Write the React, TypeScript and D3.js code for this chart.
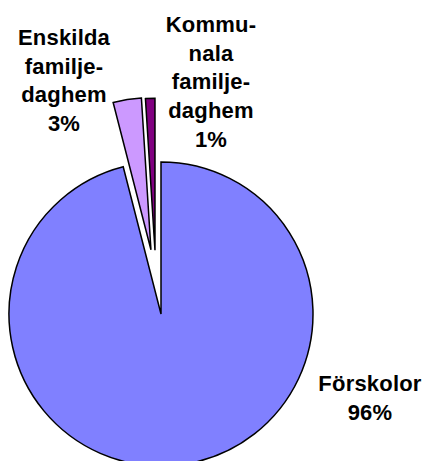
import React from "react";
import * as d3 from "d3";

const categories = ["Förskolor", "Enskilda familjedaghem", "Kommunala familjedaghem"];
const values = [96, 3, 1];
const labelLines = [
  ["Förskolor", "96%"],
  ["Enskilda", "familje-", "daghem", "3%"],
  ["Kommu-", "nala", "familje-", "daghem", "1%"],
];

const colors = ["#8080FF", "#CC99FF", "#800080"];
const explodeDist = [0, 65, 64];
const explodeAngleDeg = [0, -8.9, -5.4];
const labelPos = [
  { x: 370, y: 391 },
  { x: 64, y: 45 },
  { x: 211, y: 32 },
];
const lineHeight = 28.7;

export default function App() {
  const W = 424, H = 461;
  const cx = 161, cy = 314, r = 152;
  const data = categories.map((c, i) => ({ c, v: values[i], i }));
  const pie = d3.pie<any>().value((d) => d.v).sort(null).startAngle(0).endAngle(2 * Math.PI);
  const arcs = pie(data);
  const arc = d3.arc<any>().innerRadius(0).outerRadius(r);
  return (
    <svg width={W} height={H} style={{ position: "fixed", left: 0, top: 0, background: "#fff" }}>
      <rect width={W} height={H} fill="#fff" />
      {arcs.map((a, i) => {
        const ang = (explodeAngleDeg[i] * Math.PI) / 180;
        const dx = explodeDist[i] * Math.sin(ang);
        const dy = -explodeDist[i] * Math.cos(ang);
        return (
          <path
            key={i}
            d={arc(a) as string}
            transform={`translate(${cx + dx},${cy + dy})`}
            fill={colors[i]}
            stroke="#000"
            strokeWidth={1.5}
            strokeLinejoin="miter"
          />
        );
      })}
      {labelLines.map((lines, i) => (
        <text
          key={i}
          textAnchor="middle"
          fontFamily="'Liberation Sans', Arial, sans-serif"
          fontWeight="bold"
          fontSize={22}
          letterSpacing={0.2}
          fill="#000"
        >
          {lines.map((t, j) => (
            <tspan key={j} x={labelPos[i].x} y={labelPos[i].y + j * lineHeight}>
              {t}
            </tspan>
          ))}
        </text>
      ))}
    </svg>
  );
}
